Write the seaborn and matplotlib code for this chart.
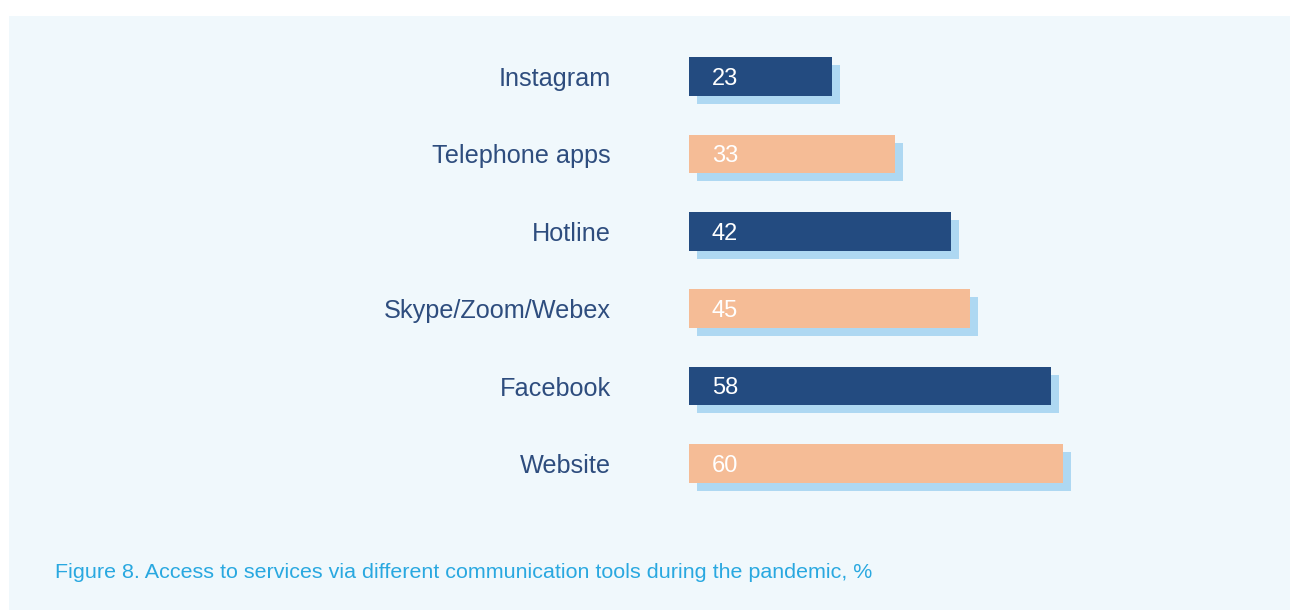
import matplotlib
matplotlib.use("Agg")
import matplotlib.pyplot as plt
import matplotlib.transforms as mtransforms
from matplotlib.patches import Rectangle
import seaborn as sns
import pandas as pd

categories = ["Instagram", "Telephone apps", "Hotline", "Skype/Zoom/Webex", "Facebook", "Website"]
values = [23, 33, 42, 45, 58, 60]
bar_colors = ["#234B80", "#F5BC96", "#234B80", "#F5BC96", "#234B80", "#F5BC96"]
caption = "Figure 8. Access to services via different communication tools during the pandemic, %"

df = pd.DataFrame({"tool": categories, "pct": values})

sns.set_theme(style="white")
plt.rcParams["font.family"] = ["Liberation Sans", "DejaVu Sans"]

W, H = 1290, 610
fig = plt.figure(figsize=(W / 100, H / 100), dpi=100, facecolor="white")
fig.patches.append(Rectangle((9 / W, 0), 1281 / W, 594 / H, transform=fig.transFigure,
                             facecolor="#F0F8FC", edgecolor="none", zorder=-5))

px_per_unit = (1063 - 689) / 60.0
xmax = 90
ax_left = 689
ax_w = xmax * px_per_unit
row = 77.4
top_px = 76.5 - row / 2
bot_px = 463.5 + row / 2
ax = fig.add_axes([ax_left / W, (H - bot_px) / H, ax_w / W, (bot_px - top_px) / H])
ax.set_facecolor("none")

# shadow bars
sns.barplot(data=df, x="pct", y="tool", order=categories, color="#AED8F2",
            width=0.5, ax=ax, saturation=1, zorder=1)
shadow_patches = list(ax.patches)
off = mtransforms.ScaledTranslation(8 / 100, -8 / 100, fig.dpi_scale_trans)
for p in shadow_patches:
    p.set_transform(ax.transData + off)
    p.set_edgecolor("none")

# main bars
sns.barplot(data=df, x="pct", y="tool", order=categories, hue="tool",
            palette=dict(zip(categories, bar_colors)), legend=False,
            width=0.5, ax=ax, saturation=1, zorder=2)
for p in ax.patches[len(shadow_patches):]:
    p.set_edgecolor("none")

for i, v in enumerate(values):
    ax.text(23 / px_per_unit, i + 0.03, str(v), color="white", fontsize=17,
            va="center", ha="left", zorder=3)

ax.set_xlim(0, xmax)
ax.set_ylim(len(categories) - 0.5, -0.5)
ax.set_xlabel("")
ax.set_ylabel("")
ax.set_xticks([])
for s in ax.spines.values():
    s.set_visible(False)
ax.tick_params(axis="y", length=0, pad=(689 - 611) * 72 / 100, labelsize=18.2,
               labelcolor="#2E4D7E")

fig.text(55 / W, 1 - 573 / H, caption, color="#29A8E0", fontsize=15.45,
         ha="left", va="center")

fig.savefig("out.png", dpi=100, facecolor="white")
